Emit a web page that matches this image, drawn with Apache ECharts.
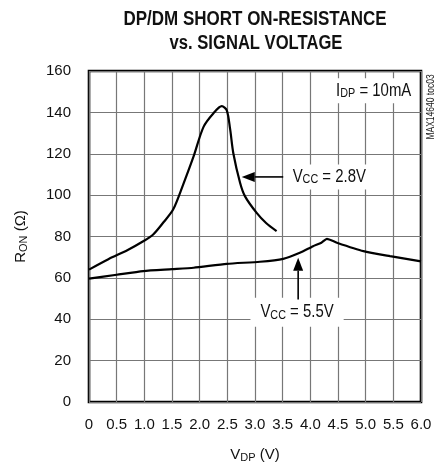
<!DOCTYPE html>
<html><head><meta charset="utf-8">
<script src="https://cdn.jsdelivr.net/npm/echarts@6/dist/echarts.min.js"></script>
<style>html,body{margin:0;padding:0;background:#fff}#c{width:445px;height:468px}</style>
</head><body><div id="c"></div>
<script>
const FONT = "'Liberation Sans',Arial,sans-serif";
// Data
const vdp28 = [0, 0.35, 0.7, 0.98, 1.16, 1.35, 1.52, 1.7, 1.89, 2.07, 2.25, 2.40, 2.49, 2.55, 2.61, 2.73, 2.82, 3.03, 3.2, 3.39];
const ron28 = [64, 69, 73.5, 77.7, 81, 87, 93, 105, 118.7, 133, 139.6, 143, 141, 132, 120, 106, 99.4, 91.4, 86.5, 82.6];
const vdp55 = [0, 0.5, 0.98, 1.5, 1.89, 2.49, 3.09, 3.51, 3.81, 4.05, 4.2, 4.3, 4.48, 4.96, 5.44, 6.0];
const ron55 = [59.6, 61.5, 63.3, 64.2, 64.9, 66.8, 67.8, 69.2, 72.1, 75.3, 77, 78.9, 77, 72.9, 70.5, 68];
const xTicks = ['0','0.5','1.0','1.5','2.0','2.5','3.0','3.5','4.0','4.5','5.0','5.5','6.0'];
const yTicks = ['0','20','40','60','80','100','120','140','160'];
const titleLines = ['DP/DM SHORT ON-RESISTANCE', 'vs. SIGNAL VOLTAGE'];
// Annotation anchors in data coordinates
const arrow28 = [[3.51, 108.8], [2.76, 108.8]];
const label28 = [3.62, 108.8];
const arrow55 = [[3.78, 49.6], [3.78, 69.7]];
const label55 = [3.76, 43.4];
const labelIdp = [5.87, 150.5];

const SQ = 0.83; // horizontal condensing of annotation text
const sub = {fontSize: 13, fontFamily: FONT, color: '#111', padding: [6, 0, 0, 0]};
const nameStyle = {fontSize: 15, fontFamily: FONT, color: '#111',
  rich: {s: {fontSize: 11, fontFamily: FONT, color: '#111', padding: [5, 0, 0, 0]}}};

const chart = echarts.init(document.getElementById('c'));
const option = {
  animation: false,
  backgroundColor: '#fff',
  grid: {left: 89, right: 24, top: 71, bottom: 65, show: true, borderColor: '#000', borderWidth: 2.6, backgroundColor: 'transparent'},
  xAxis: {
    type: 'value', min: 0, max: 6, interval: 0.5,
    axisLine: {show: false}, axisTick: {show: false},
    splitLine: {show: true, lineStyle: {color: '#777', width: 1.2}},
    axisLabel: {margin: 15, fontFamily: FONT, fontSize: 15, color: '#111',
      formatter: v => xTicks[Math.round(v / 0.5)]},
    name: 'V{s|DP} (V)', nameLocation: 'middle', nameGap: 45,
    nameTextStyle: nameStyle
  },
  yAxis: {
    type: 'value', min: 0, max: 160, interval: 20,
    axisLine: {show: false}, axisTick: {show: false},
    splitLine: {show: true, lineStyle: {color: '#777', width: 1.2}},
    axisLabel: {margin: 18, fontFamily: FONT, fontSize: 15, color: '#111',
      formatter: v => yTicks[Math.round(v / 20)]},
    name: 'R{s|ON} (Ω)', nameLocation: 'middle', nameGap: 60,
    nameTextStyle: nameStyle
  },
  series: [
    {type: 'line', data: vdp28.map((x, i) => [x, ron28[i]]), showSymbol: false, smooth: 0.3,
     lineStyle: {color: '#000', width: 2.2}, z: 5},
    {type: 'line', data: vdp55.map((x, i) => [x, ron55[i]]), showSymbol: false, smooth: 0.2,
     lineStyle: {color: '#000', width: 2.2}, z: 5}
  ]
};
chart.setOption(option);

function px(p) { return chart.convertToPixel({gridIndex: 0}, p); }
function arrowGraphic(a) {
  const p0 = px(a[0]), p1 = px(a[1]);
  const dx = p1[0] - p0[0], dy = p1[1] - p0[1];
  const L = Math.hypot(dx, dy), ux = dx / L, uy = dy / L;
  const hl = 13, hw = 5;
  const bx = p1[0] - ux * hl, by = p1[1] - uy * hl;
  return [
    {type: 'line', shape: {x1: p0[0], y1: p0[1], x2: bx, y2: by}, style: {stroke: '#000', lineWidth: 1.6}, z: 20},
    {type: 'polygon', shape: {points: [[p1[0], p1[1]], [bx - uy * hw, by + ux * hw], [bx + uy * hw, by - ux * hw]]},
     style: {fill: '#000'}, z: 20}
  ];
}
function textGraphic(p, txt, align, pad) {
  const q = px(p);
  return {type: 'text', x: q[0], y: q[1], scaleX: SQ, z: 19,
    style: {text: txt, align: align, verticalAlign: 'middle', fontFamily: FONT, fontSize: 18, fill: '#111',
      backgroundColor: '#fff', padding: pad, rich: {s: Object.assign({}, sub, {fill: '#111'})}}};
}
const titleStyle = {fontFamily: FONT, fontWeight: 'bold', fontSize: 20, fill: '#111', align: 'center', verticalAlign: 'middle'};
const g = [].concat(
  arrowGraphic(arrow28),
  arrowGraphic(arrow55),
  [{type: 'text', x: 255, y: 19.5, scaleX: 0.85, style: Object.assign({text: titleLines[0]}, titleStyle)},
   {type: 'text', x: 256, y: 43, scaleX: 0.83, style: Object.assign({text: titleLines[1]}, titleStyle)},
   textGraphic(label28, 'V{s|CC} = 2.8V', 'left', [3, 4, 3, 4]),
   textGraphic(label55, 'V{s|CC} = 5.5V', 'center', [5, 12, 5, 12]),
   textGraphic(labelIdp, 'I{s|DP} = 10mA', 'right', [3, 3, 3, 5]),
   {type: 'text', x: 431, y: 107, rotation: Math.PI / 2, scaleX: 0.85, z: 19,
    style: {text: 'MAX14640 toc03', align: 'center', verticalAlign: 'middle', fontFamily: FONT, fontSize: 10, fill: '#222'}}]
);
chart.setOption({graphic: g});
</script>
</body></html>
